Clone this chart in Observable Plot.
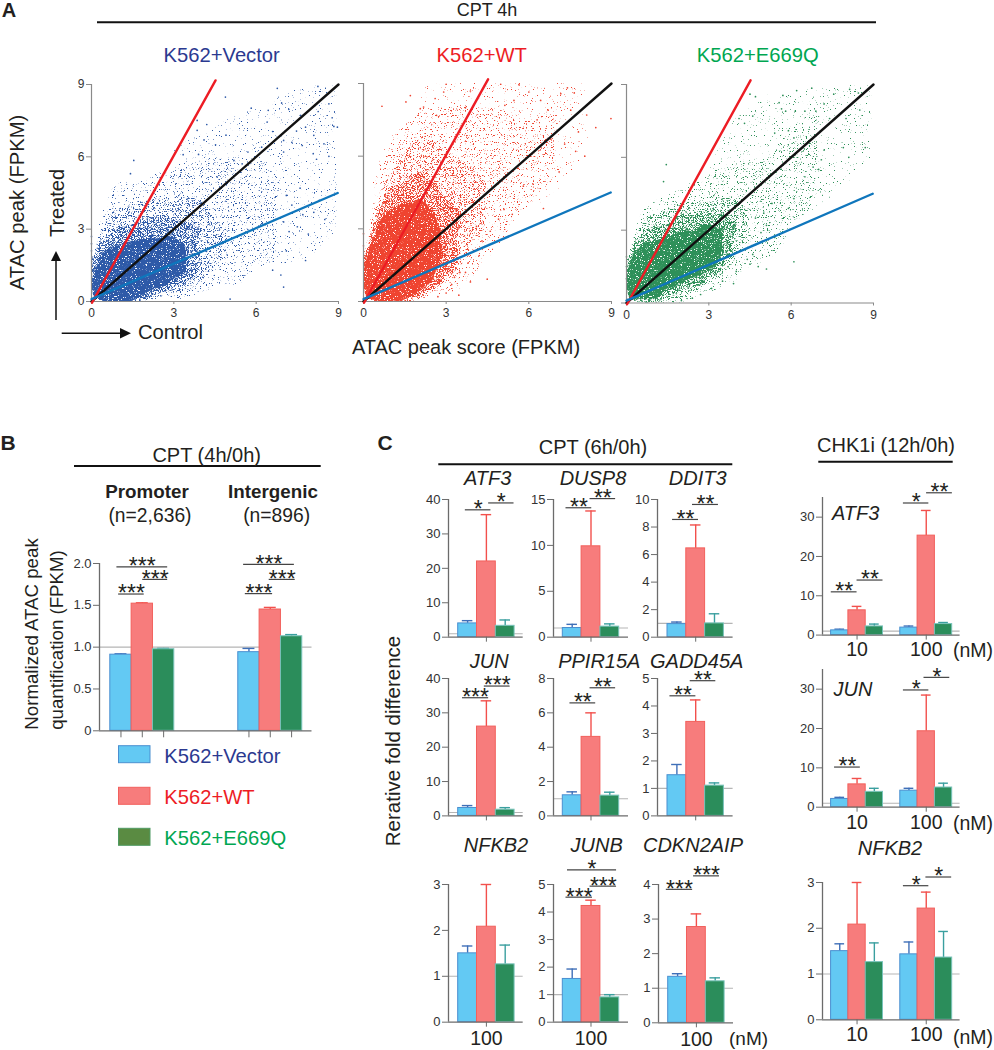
<!DOCTYPE html>
<html><head><meta charset="utf-8">
<script src="https://cdn.jsdelivr.net/npm/d3@7"></script>
<script src="https://cdn.jsdelivr.net/npm/@observablehq/plot@0.6"></script>
<style>
html,body{margin:0;padding:0;background:#fff}
#page{position:relative;width:994px;height:1050px;overflow:hidden;font-family:"Liberation Sans",Arial,sans-serif}
#page svg{position:absolute;background:transparent;overflow:visible}
</style></head><body><div id="page"></div>
<script>
// ---------- PANEL A data (FPKM) ----------
const cellLines=["K562+Vector","K562+WT","K562+E669Q"];
// density bands of each cloud, outermost to innermost: [control, treated low, treated high]
const vectorFar=[[3,4.5,6.5],[5,2.5,7.5],[7,1.5,8.6],[9,3,9]];
const vectorWisp=[[0.03,0,1.8],[0.3,0,3.3],[0.6,0,4.2],[1,0,4.8],[1.5,0,5],[2,0,5.1],[3,0,5.5],[4,0.3,5.8],[5,0.7,6],[6,1.2,5.8],[6.8,1.8,5.5]];
const vectorHalo=[[0.03,0,1.6],[0.2,0,2.5],[0.5,0,3.2],[1,0,3.8],[1.5,0,4],[2,0.03,4.1],[2.5,0.1,4.2],[3,0.25,4.3],[3.5,0.55,4.3],[4,0.9,4.1],[4.5,1.3,3.6],[4.9,1.9,3]];
const vectorMid=[[0.03,0,1.3],[0.2,0,2.1],[0.5,0,2.6],[1,0,3],[1.5,0.02,3.2],[2,0.12,3.3],[2.5,0.3,3.4],[3,0.55,3.4],[3.5,0.9,3.3],[4,1.4,2.9]];
const vectorCore=[[0.03,0,0.9],[0.2,0,1.5],[0.5,0,2],[1,0.05,2.25],[1.5,0.15,2.45],[2,0.35,2.6],[2.5,0.6,2.7],[3,0.95,2.6],[3.4,1.4,2.3]];
const wtFar=[[2,7,8.9],[4,5,9],[6,4,9],[8,6,9]];
const wtWisp=[[0.03,0,2],[0.3,0,4],[0.6,0,5.8],[1,0,6.7],[1.5,0,7.3],[2,0.05,7.6],[3,0.3,7.9],[4,1,8.1],[5,2.5,7.9],[6,4,7.5],[7,5.5,8]];
const wtHalo=[[0.03,0,1.9],[0.1,0,2.6],[0.5,0,3.9],[1,0,5.2],[1.5,0,6.1],[2,0.08,6.8],[2.5,0.3,6.7],[3,0.75,6.2],[3.5,1.4,5.9],[4,2.2,5.3],[4.5,3,4.7]];
const wtMid=[[0.03,0,1.6],[0.2,0,2.6],[0.5,0,3.5],[1,0.02,4.6],[1.5,0.1,5],[2,0.25,5.3],[2.5,0.5,5],[3,1,4.5],[3.4,1.6,3.8]];
const wtCore=[[0.03,0,1.2],[0.2,0,2],[0.5,0.02,3],[1,0.08,3.7],[1.5,0.2,4],[2,0.4,4.1],[2.5,0.85,3.6],[2.8,1.5,3]];
const e669qFar=[[3,4,6],[5,3,8.5],[7,4,8.8],[9,6,9]];
const e669qWisp=[[0.03,0,1.6],[0.3,0,3],[0.6,0,3.7],[1,0,4.2],[2,0,4.7],[3,0.4,5.3],[4,1,5.7],[5,1.8,6],[6,3,7],[7,4.5,8]];
const e669qHalo=[[0.03,0,1.5],[0.2,0,2.4],[0.5,0,3.1],[1,0,3.6],[1.5,0.05,3.85],[2,0.2,4],[2.5,0.45,4.1],[3,0.85,4.25],[3.5,1.25,4.3],[4,1.8,4.2],[4.5,2.5,3.8]];
const e669qMid=[[0.03,0,1.3],[0.2,0.02,2.1],[0.5,0.05,2.7],[1,0.15,3.05],[1.5,0.3,3.3],[2,0.45,3.5],[2.5,0.7,3.6],[3,1.05,3.8],[3.5,1.5,3.7],[4,2.1,3.4]];
const e669qCore=[[0.03,0.02,1.1],[0.2,0.05,1.75],[0.5,0.15,2.2],[1,0.3,2.5],[1.5,0.5,2.7],[2,0.75,2.9],[2.5,1.05,3],[3,1.4,3.15],[3.5,1.95,3]];
const vectorPoints=[[6.77,8.84],[8.25,8.92],[4.88,8.48],[6.93,8.23],[5.82,8.02],[8.65,8.2],[6.44,7.93],[7.19,7.97],[8.26,7.88],[3.85,7.51],[6.4,7.44],[7.62,7.72],[8.77,7.62],[8.83,7.26],[4.2,7.34],[3.85,7.1],[6.6,7.05],[7.47,7.07],[7.8,7.23],[8.96,7.23],[4.52,6.5],[3.34,6.09],[1.54,5.85],[7,6.68],[7.68,6.47],[8.1,6.89],[8.47,6.54],[8.08,6.13],[8.65,6.02],[7,6.2],[5.19,5.85],[5.49,5.71],[1.42,5.3],[4.58,5.16],[8.2,5.9],[7.3,6.6],[6.2,6.4],[5.7,6.2],[4.9,6.9],[4.1,6.7],[3.9,6.1],[7,3.3],[7.1,4.4],[7.2,2.9],[7.3,4],[7.5,3.1],[7.6,4.7],[7.7,3.6],[7.8,1.7],[7.9,2.8],[8.1,3.7],[8.3,4.2],[8.5,3.4],[7,.6],[7.1,2.1],[6.9,1.1],[6.6,1.3],[5.05,.1],[0,2.7],[0,2.4],[0,2.1],[.02,1.8]];
const wtPoints=[[.67,8.06],[1.7,8.5],[1.54,8.24],[2.06,7.96],[2.91,8.65],[3,8.97],[3.88,8.69],[4.98,8.97],[5.64,8.95],[6,8.65],[7.16,8.58],[7.4,8.82],[7.65,8.61],[5.13,8.1],[5.46,8.3],[6.43,8.3],[2.6,8.38],[2.65,7.69],[2.18,8.03],[8.98,7.55],[8.43,7.18],[7.52,7.9],[8.03,6],[7.1,5.35],[6.53,3.84],[5.8,4.76],[6.16,4.84],[4.49,.92],[3.88,.81],[3.46,.26],[3.7,8],[6.3,7.5],[6.7,7.9],[7.8,7],[8.1,7.7],[6.4,6.4],[6.8,6.7],[7.3,6.5],[7.7,6.2],[5.4,3.6],[5.1,3.8],[4.9,3.4],[4.6,2.9],[4.3,2.5],[4,2.1],[3.8,1.6],[3.5,1.2],[3.2,.7],[3,.35],[2.7,.2],[3.7,1.2],[4.2,1.9],[4.1,3.1],[3.3,1],[0,2.8],[0,2.3],[.02,1.9]];
const e669qPoints=[[5.7,8.55],[6.2,8.75],[6.75,8.85],[8.13,8.8],[8.45,8.65],[5.56,8.25],[5.8,7.9],[5.65,8],[7.55,8.6],[7.2,8.2],[6.9,7.9],[6.5,7.9],[6.15,7.9],[4.7,8.5],[4.5,8.6],[8.5,7.95],[8,7.6],[7.4,7.6],[4.6,7.7],[4.1,7.6],[4.3,7.4],[5.4,7],[5.9,7.1],[6.1,6.8],[6.6,6.6],[7.2,6.3],[7.9,6.4],[8.1,6],[8.7,6.4],[7.1,5.9],[7,5.5],[6.8,5.6],[6.5,5.2],[1.45,5.7],[1.35,5],[6.1,4.3],[5.9,3.9],[5.3,4.1],[5,3.7],[4.7,3.5],[5.1,3.2],[5.4,2.7],[4.9,2.9],[4.7,2.4],[4.6,2],[4.8,1.5],[4.5,1.6],[4.4,1.8],[5.1,1.4],[6.1,1.7],[3.5,.9],[3.9,.8],[3.7,1.5],[4,1.3],[0,1.9],[0,1.5],[0,1],[3.1,.6],[2.7,.35],[2.4,.2],[2,.1]];
// reference lines: [control, treated]
const blackLine=[[0,0],[9,9]];
const redLine=[[0.02,-0.05],[4.52,9.17]];
const blueLine=[[0,0.1],[8.97,4.5]];
const scatterTicks=[0,3,6,9];

// ---------- PANEL B data ----------
const regionValues=[[0.91,1.52,0.975],[0.94,1.45,1.13]];
const regionTops=[[0.92,1.53,0.985],[0.985,1.475,1.15]];
const regionTicks=[0,0.5,1,1.5,2];
const regionSig=[[-0.19,2.19,1.96,"***"],[1.02,2.19,1.81,"***"],[-0.11,1.09,1.635,"***"],[5.75,8.13,1.99,"***"],[6.95,8.17,1.81,"***"],[5.83,7.11,1.64,"***"]];

// ---------- PANEL C data: CPT (6h/0h) ----------
const cptGenes=["ATF3","DUSP8","DDIT3","JUN","PPIR15A","GADD45A","NFKB2","JUNB","CDKN2AIP"];
const cptValues=[[4,22,3.3],[1,9.9,1.15],[0.95,6.45,1],[2.3,26,1.8],[1.2,4.6,1.18],[1.48,3.42,1.1],[1.5,2.08,1.26],[1.57,4.22,0.9],[1.33,2.77,1.2]];
const cptTops=[[4.8,35.6,5],[1.4,13.75,1.45],[1.1,8.15,1.7],[3,33.5,2.4],[1.4,6,1.38],[1.87,4.22,1.2],[1.66,3,1.68],[1.93,4.43,1],[1.42,3.15,1.3]];
const cptTicks=[[0,10,20,30,40],[0,5,10,15],[0,2,4,6,8,10],[0,10,20,30,40],[0,2,4,6,8],[0,1,2,3,4,5],[0,1,2,3],[0,1,2,3,4,5],[0,1,2,3,4]];
const cptSig=[
 [[-0.12,1.24,37,"*"],[1.12,2.47,39,"*"]],
 [[-0.33,1.04,14.1,"**"],[0.95,2.31,15.1,"**"]],
 [[-0.23,1.15,8.55,"**"],[0.83,2.21,9.64,"**"]],
 [[-0.27,1.12,34.4,"***"],[0.89,2.26,37.8,"***"]],
 [[-0.12,1.25,6.58,"**"],[0.95,2.31,7.46,"**"]],
 [[-0.37,1.01,4.37,"**"],[0.71,2.07,4.92,"**"]],
 [],
 [[-0.33,1.08,4.54,"***"],[0.95,2.36,4.94,"***"],[-0.25,2.36,5.53,"*"]],
 [[-0.6,0.8,3.86,"***"],[0.85,2.23,4.25,"***"]]];
const cptDose=["100"];

// ---------- PANEL C data: CHK1i (12h/0h) ----------
const chkGenes=["ATF3","JUN","NFKB2"];
const chkValues=[[1.2,6.3,2.2,1.9,25.3,2.8],[2.1,5.8,3.9,4.2,19.3,5],[1.5,2.08,1.26,1.43,2.43,1.36]];
const chkTops=[[1.5,7.3,2.8,2.3,31.7,3.2],[2.5,7.3,4.8,4.8,28.5,6.1],[1.66,3,1.68,1.7,2.79,1.93]];
const chkTicks=[[0,10,20,30],[0,10,20,30],[0,1,2,3]];
const chkDomainTop=[35,35,3];
const chkSig=[
 [[-0.49,1,11,"**"],[1,2.5,14,"**"],[3.68,5.15,33.6,"*"],[5.02,6.51,36.2,"**"]],
 [[-0.3,1.19,10.2,"**"],[3.68,5.15,29.8,"*"],[4.87,6.36,33,"*"]],
 [[3.68,5.15,2.93,"*"],[4.98,6.47,3.12,"*"]]];
const chkDoses=["10","100"];

// ---------- layout & style (pixels, colours) ----------
const FONT='"Liberation Sans",Arial,sans-serif';
const INK="#231f20", AXIS="#6b6b6b";
const SERIES=[
 {fill:"#63c9f3",edge:"#4a8fd0",err:"#3f6fb8"},
 {fill:"#f77c7c",edge:"#f2605c",err:"#f2504c"},
 {fill:"#2b8d5b",edge:"#79c3bb",err:"#3a9f9f"}];
const scatterLayout=[
 {left:91,right:338,top:84,bottom:301,color:"#2e5aa8",bands:[vectorFar,vectorWisp,vectorHalo,vectorMid,vectorCore],pts:vectorPoints,yLabels:true},
 {left:363,right:611,top:83,bottom:301,color:"#ef4430",bands:[wtFar,wtWisp,wtHalo,wtMid,wtCore],pts:wtPoints,yLabels:false},
 {left:626,right:873,top:83.5,bottom:302,color:"#2e9059",bands:[e669qFar,e669qWisp,e669qHalo,e669qMid,e669qCore],pts:e669qPoints,yLabels:false}];
const cptCols=[{axis:448.3,right:523,bar:458},{axis:552.7,right:627.7,bar:562},{axis:656.7,right:732.3,bar:666.7}];
const cptRows=[{top:499.3,bottom:637},{top:678.3,bottom:815.7},{top:884,bottom:1021.7}];
const chkRows=[{top:496.7,bottom:634.3},{top:669,bottom:806.7},{top:881.7,bottom:1019}];

const page=document.getElementById("page");
function place(svg,x,y){svg.style.left=x+"px";svg.style.top=y+"px";page.appendChild(svg);}
const PAD={l:40,r:12,t:50,b:28};
function baseOpts(l,r,t,b){return {width:r-l+PAD.l+PAD.r,height:b-t+PAD.t+PAD.b,marginLeft:PAD.l,marginRight:PAD.r,marginTop:PAD.t,marginBottom:PAD.b,
 style:{background:"transparent",overflow:"visible",fontFamily:FONT,color:INK}};}

// stipple textures for the density bands: threshold = how sparse the band's stipple is
const grainThresholds=[0.7,0.66,0.59,0.5,0.34];
const defs=d3.select(page).append("svg").attr("width",0).attr("height",0).append("defs");
grainThresholds.forEach((q,i)=>{
 const f=defs.append("filter").attr("id","grain"+i).attr("x","-5%").attr("y","-5%").attr("width","110%").attr("height","110%").attr("color-interpolation-filters","sRGB");
 f.append("feTurbulence").attr("type","fractalNoise").attr("baseFrequency",0.035).attr("numOctaves",2).attr("seed",7).attr("result","warp");
 f.append("feDisplacementMap").attr("in","SourceGraphic").attr("in2","warp").attr("scale",14).attr("xChannelSelector","R").attr("yChannelSelector","G").attr("result","rough");
 f.append("feTurbulence").attr("type","fractalNoise").attr("baseFrequency",0.85).attr("numOctaves",2).attr("seed",11+i).attr("result","noise");
 f.append("feColorMatrix").attr("in","noise").attr("type","matrix").attr("values",`0 0 0 0 0  0 0 0 0 0  0 0 0 0 0  0 0 0 14 ${-14*q}`).attr("result","mask");
 f.append("feComposite").attr("in","rough").attr("in2","mask").attr("operator","in");
});

// ---------- scatter panels ----------
scatterLayout.forEach((p,i)=>{
 const band=rows=>Plot.areaY(rows,{x:d=>d[0],y1:d=>d[1],y2:d=>d[2],fill:p.color,curve:"monotone-x",clip:"frame"});
 const line=(rows,c,w)=>Plot.line(rows,{x:d=>d[0],y:d=>d[1],stroke:c,strokeWidth:w});
 const svg=Plot.plot({...baseOpts(p.left,p.right,p.top,p.bottom),
  x:{domain:[0,9]},y:{domain:[0,9]},
  marks:[
   ...p.bands.map(band),
   Plot.dot(p.pts,{x:d=>d[0],y:d=>d[1],r:0.85,fill:p.color,stroke:"none"}),
   Plot.ruleX([0],{stroke:"#8a8a8a",strokeWidth:1.2}),
   Plot.ruleY([0],{stroke:"#8a8a8a",strokeWidth:1.2}),
   Plot.axisX({ticks:scatterTicks,tickSize:3,tickPadding:4,fontSize:12,stroke:"#8a8a8a",fill:"#333",label:null}),
   Plot.axisY({ticks:scatterTicks,tickSize:5,tickPadding:2,fontSize:12,stroke:"#8a8a8a",fill:"#333",label:null,tickFormat:p.yLabels?(d=>d):(()=>"")}),
   line(blackLine,"#111",2.4),line(redLine,"#ed1c24",2.4),line(blueLine,"#0f76bc",2.4)
  ]});
 d3.select(svg).selectAll('g[aria-label="area"]').attr("filter",(d,k)=>`url(#grain${k})`);
 place(svg,p.left-PAD.l,p.top-PAD.t);
});

// ---------- bar panels ----------
function barPanel({axis,right,top,bottom,bar,pitch,values,tops,ticks,domainTop,sig,positions,tickAt,tickLabels,tickFmt,tickLen=5,labelSize=19.5,labelPad=1}){
 const c0=bar+pitch/2;
 const toPos=px=>(px-c0)/pitch;
 const rows=values.map((v,i)=>({pos:positions[i],v,top:tops[i],s:SERIES[i%3]}));
 const S=sig.map(([a,b,y,t])=>({a,b,y,t}));
 const svg=Plot.plot({...baseOpts(axis,right,top,bottom),
  x:{type:"linear",domain:[toPos(axis),toPos(right)]},
  y:{domain:[0,domainTop]},
  marks:[
   Plot.ruleY([1],{stroke:"#b5b5b5",strokeWidth:1.1}),
   Plot.ruleX(rows,{x:"pos",y1:"v",y2:"top",stroke:d=>d.s.err,strokeWidth:1.4}),
   Plot.ruleY(rows,{y:"top",x1:d=>d.pos-0.28,x2:d=>d.pos+0.28,stroke:d=>d.s.err,strokeWidth:1.4}),
   Plot.rectY(rows,{x1:d=>d.pos-0.5,x2:d=>d.pos+0.5,y1:0,y2:"v",fill:d=>d.s.fill,stroke:d=>d.s.edge,strokeWidth:1}),
   Plot.ruleY([0],{stroke:AXIS,strokeWidth:1.3}),
   Plot.ruleX([toPos(axis)],{stroke:AXIS,strokeWidth:1.3}),
   Plot.axisY({ticks,tickSize:6,tickPadding:2,fontSize:13,stroke:AXIS,fill:"#333",label:null,tickFormat:tickFmt||(d=>d)}),
   Plot.axisX({ticks:tickAt,tickSize:tickLen,tickPadding:labelPad,fontSize:labelSize,stroke:AXIS,fill:INK,label:null,
     tickFormat:tickLabels?(d=>tickLabels[tickAt.indexOf(d)]):(()=>"")}),
   Plot.ruleY(S,{y:"y",x1:"a",x2:"b",stroke:"#444",strokeWidth:1.2}),
   Plot.text(S,{x:d=>(d.a+d.b)/2,y:"y",text:"t",fontSize:23,fill:INK})
  ]});
 place(svg,axis-PAD.l,top-PAD.t);
}
// Panel B
barPanel({axis:98.5,right:311,top:562.7,bottom:730,bar:109.3,pitch:21.33,
 values:regionValues.flat(),tops:regionTops.flat(),ticks:regionTicks,domainTop:2,sig:regionSig,
 positions:[0,1,2,6,7,8],tickAt:[0,1,2,6,7,8],tickLen:7,
 tickFmt:d=>d===0?"0":d.toFixed(1)});
// Panel C, CPT
cptGenes.forEach((g,i)=>{
 const r=cptRows[Math.floor(i/3)];let col=cptCols[i%3];
 let bottom=r.bottom;
 if(g==="CDKN2AIP"){col={axis:658.3,right:733.3,bar:668};bottom=1022.3;}
 const T=cptTicks[i];
 barPanel({axis:col.axis,right:col.right,top:r.top,bottom,bar:col.bar,pitch:18.8,
  values:cptValues[i],tops:cptTops[i],ticks:T,domainTop:T[T.length-1],sig:cptSig[i],
  positions:[0,1,2],tickAt:[1],tickLabels:i>=6?cptDose:null,labelPad:4});
});
// Panel C, CHK1i
chkGenes.forEach((g,i)=>{
 const r=chkRows[i];
 barPanel({axis:821.7,right:959.3,top:r.top,bottom:r.bottom,bar:830.3,pitch:17.3,
  values:chkValues[i],tops:chkTops[i],ticks:chkTicks[i],domainTop:chkDomainTop[i],sig:chkSig[i],
  positions:[0,1,2,4,5,6],tickAt:[1,5],tickLabels:chkDoses,labelPad:2.5});
});

// ---------- annotation overlay ----------
const ov=d3.select(page).append("svg").attr("width",994).attr("height",1050).style("left","0").style("top","0").style("pointer-events","none");
const rules=[[97,876,22.3],[74,320.7,466],[438.3,732.3,464.3],[818.3,952.7,461.7]];
rules.forEach(([a,b,y])=>ov.append("line").attr("x1",a).attr("x2",b).attr("y1",y).attr("y2",y).attr("stroke","#111").attr("stroke-width",2));
// axis arrows
ov.append("line").attr("x1",56).attr("x2",56).attr("y1",320).attr("y2",258).attr("stroke","#111").attr("stroke-width",1.5);
ov.append("polygon").attr("points","51,261 61,261 56,251").attr("fill","#111");
ov.append("line").attr("x1",61.7).attr("x2",122).attr("y1",333.3).attr("y2",333.3).attr("stroke","#111").attr("stroke-width",1.5);
ov.append("polygon").attr("points","120,328 120,338.5 131,333.3").attr("fill","#111");
// legend swatches
[[745.7,"#63c9f3","#4a8fd0"],[787.3,"#f77c7c","#f2605c"],[828.3,"#5a8b42","#4f9a62"]].forEach(([y,f,s])=>
 ov.append("rect").attr("x",118.5).attr("y",y).attr("width",31.5).attr("height",17).attr("fill",f).attr("stroke",s).attr("stroke-width",1));
const T=(t,x,y,size,o={})=>{
 const e=ov.append("text").text(t).attr("x",x).attr("y",y).attr("dy","0.35em")
  .attr("font-size",size).attr("font-family",FONT).attr("fill",o.c||INK).attr("text-anchor",o.a||"middle");
 if(o.b)e.attr("font-weight","bold"); if(o.i)e.attr("font-style","italic");
 if(o.r)e.attr("transform",`rotate(-90,${x},${y})`);
};
T("A",9,10,20,{b:1});T("B",8,443,21,{b:1});T("C",385,443,21,{b:1});
T("CPT 4h",487,10,18);
T(cellLines[0],221.7,55,20.2,{c:"#2b3990"});
T(cellLines[1],481.7,55,20.2,{c:"#ed1c24"});
T(cellLines[2],757.7,55,20.2,{c:"#00a651"});
T("ATAC peak (FPKM)",16.7,202.5,20.2,{r:1});
T("Treated",57.3,203,20,{r:1});
T("Control",138,332,20.2,{a:"start"});
T("ATAC peak score (FPKM)",466,347,20);
T("CPT (4h/0h)",206.7,455,20);
T("Promoter",147,491.7,18.8,{b:1});T("Intergenic",273,491.7,18.8,{b:1});
T("(n=2,636)",150,515.7,19.3);T("(n=896)",276.7,515.7,19.3);
T("Normalized ATAC peak",31.7,634,18.7,{r:1});
T("quantification (FPKM)",56.7,640,18.7,{r:1});
T(cellLines[0],164.3,755.7,20.2,{a:"start",c:"#2b3990"});
T(cellLines[1],164.3,797,20.2,{a:"start",c:"#ed1c24"});
T(cellLines[2],164.3,838,20.2,{a:"start",c:"#00a651"});
T("CPT (6h/0h)",593,446.7,20);
T("CHK1i (12h/0h)",886,445,20);
T("Rerative fold difference",393,741,20.5,{r:1});
const geneXY=[[487.7,478],[593,478],[697.7,478],[489.3,660.7],[599.3,660.7],[696.7,660.7],[496,845],[596.7,845],[693,845]];
cptGenes.forEach((g,i)=>T(g,geneXY[i][0],geneXY[i][1],20,{i:1}));
const chkXY=[[855.7,513.3],[853,689],[890,848]];
chkGenes.forEach((g,i)=>T(g,chkXY[i][0],chkXY[i][1],20,{i:1}));
T("(nM)",729,1038.5,19,{a:"start"});
T("(nM)",973,650,19.5);T("(nM)",973,823,19.5);T("(nM)",973,1037,19.5);
</script></body></html>
